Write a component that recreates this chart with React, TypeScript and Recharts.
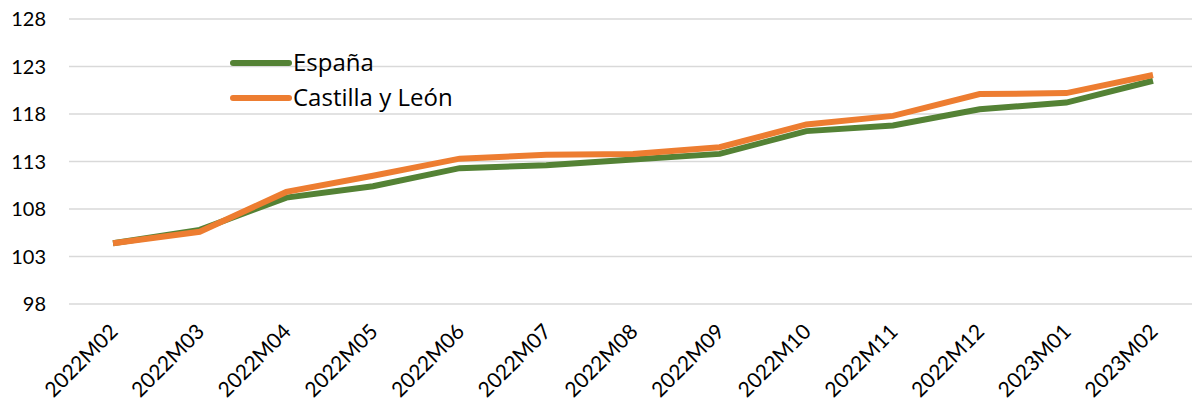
import { LineChart, Line, XAxis, YAxis, CartesianGrid, Legend } from "recharts"

const months = [
  "2022M02", "2022M03", "2022M04", "2022M05", "2022M06", "2022M07", "2022M08",
  "2022M09", "2022M10", "2022M11", "2022M12", "2023M01", "2023M02",
]
const espana = [104.4, 105.8, 109.2, 110.4, 112.3, 112.6, 113.2, 113.8, 116.2, 116.8, 118.5, 119.2, 121.5]
const castillaLeon = [104.4, 105.6, 109.8, 111.5, 113.3, 113.7, 113.8, 114.5, 116.9, 117.8, 120.1, 120.2, 122.1]
const yTicks = [98, 103, 108, 113, 118, 123, 128]

const data = months.map((month, i) => ({ month, espana: espana[i], castilla: castillaLeon[i] }))

const font = "Lato, 'Open Sans', sans-serif"
const legendFont = "'Open Sans', Lato, sans-serif"
const GREEN = "#548235"
const ORANGE = "#ED7D31"

function MonthTick({ x, y, payload }: any) {
  const ax = x + 6
  const ay = y + 21
  return (
    <text
      x={ax}
      y={ay}
      transform={`rotate(-45, ${ax}, ${ay})`}
      textAnchor="end"
      fontSize={21}
      fontFamily={font}
      fill="#000"
    >
      {payload.value}
    </text>
  )
}

function LegendBox() {
  const items = [
    { label: "España", color: GREEN },
    { label: "Castilla y León", color: ORANGE },
  ]
  return (
    <svg width={270} height={80}>
      {items.map((item, i) => (
        <g key={item.label}>
          <line x1={3} x2={59} y1={19 + i * 35} y2={19 + i * 35} stroke={item.color} strokeWidth={6} strokeLinecap="round" />
          <text x={63} y={19 + i * 35} dy="0.35em" fontSize={24} fontFamily={legendFont} fill="#000">
            {item.label}
          </text>
        </g>
      ))}
    </svg>
  )
}

export default function App() {
  return (
    <div style={{ position: "absolute", left: 0, top: 0, background: "#fff" }}>
      <LineChart width={1192} height={403} data={data} margin={{ top: 19, right: 0, bottom: 0, left: 0 }}>
        <CartesianGrid horizontal vertical={false} stroke="#d9d9d9" strokeWidth={1.5} />
        <XAxis
          dataKey="month"
          axisLine={false}
          tickLine={false}
          height={99}
          interval={0}
          padding={{ left: 44, right: 39 }}
          tick={<MonthTick />}
        />
        <YAxis
          domain={[98, 128]}
          ticks={yTicks}
          axisLine={false}
          tickLine={false}
          width={69}
          tickSize={0}
          tickMargin={23}
          tick={{ fontSize: 20, fontFamily: font, fill: "#000" }}
        />
        <Legend
          verticalAlign="middle"
          align="center"
          layout="vertical"
          wrapperStyle={{ left: 230, top: 44, width: 270, height: 80 }}
          content={() => <LegendBox />}
        />
        <Line type="linear" dataKey="espana" name="España" stroke={GREEN} strokeWidth={6} dot={false} isAnimationActive={false} />
        <Line type="linear" dataKey="castilla" name="Castilla y León" stroke={ORANGE} strokeWidth={6} dot={false} isAnimationActive={false} />
      </LineChart>
    </div>
  )
}
